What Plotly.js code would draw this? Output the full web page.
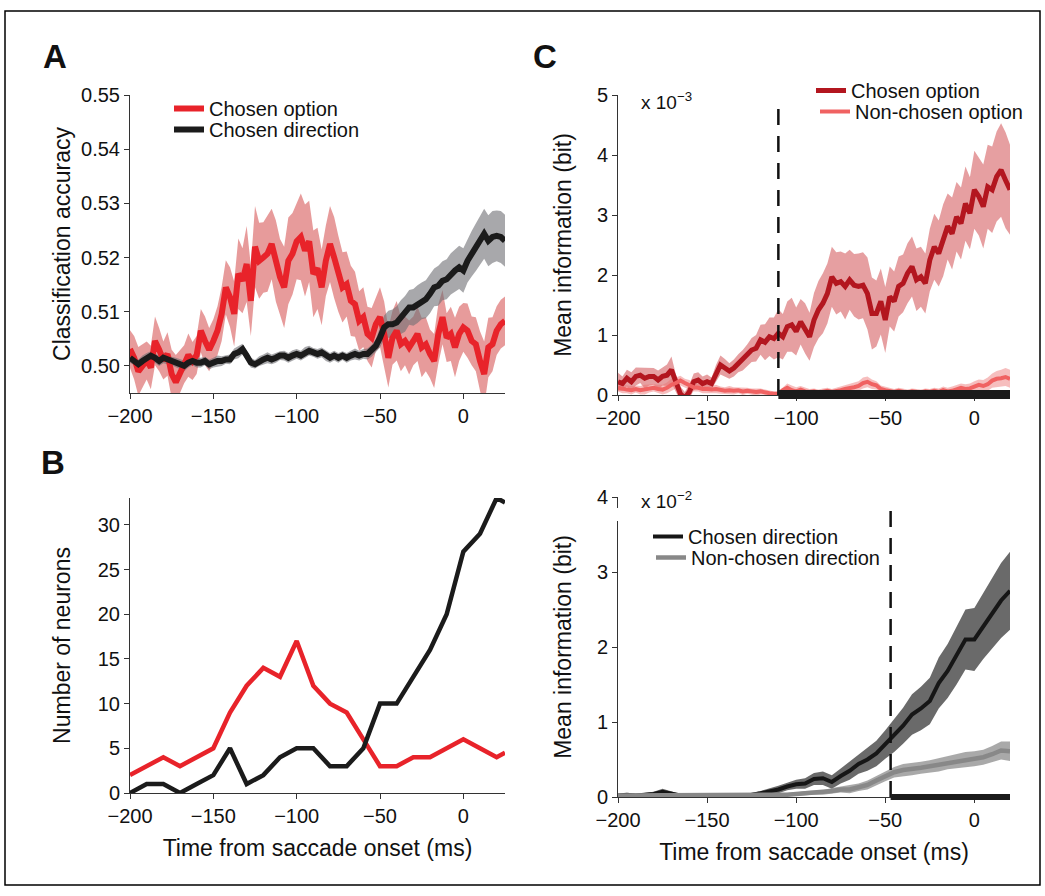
<!DOCTYPE html>
<html>
<head>
<meta charset="utf-8">
<script src="https://cdn.plot.ly/plotly-3.0.1.min.js"></script>
<style>html,body{margin:0;padding:0;background:#fff;}</style>
</head>
<body>
<div id="chart" style="width:1045px;height:896px;"></div>
<script>
// ---------------- DATA ----------------
const timeTicks = [-200, -150, -100, -50, 0];

// Panel A: classification accuracy (time step 2.5 ms, -200 .. 25)
const timeA = [
 -200,-197.5,-195,-192.5,-190,-187.5,-185,-182.5,-180,-177.5,
 -175,-172.5,-170,-167.5,-165,-162.5,-160,-157.5,-155,-152.5,
 -150,-147.5,-145,-142.5,-140,-137.5,-135,-132.5,-130,-127.5,
 -125,-122.5,-120,-117.5,-115,-112.5,-110,-107.5,-105,-102.5,
 -100,-97.5,-95,-92.5,-90,-87.5,-85,-82.5,-80,-77.5,
 -75,-72.5,-70,-67.5,-65,-62.5,-60,-57.5,-55,-52.5,
 -50,-47.5,-45,-42.5,-40,-37.5,-35,-32.5,-30,-27.5,
 -25,-22.5,-20,-17.5,-15,-12.5,-10,-7.5,-5,-2.5,
 0,2.5,5,7.5,10,12.5,15,17.5,20,22.5,
 25];
const accOptionMean = [
 .5031,.5015,.4990,.5000,.5010,.4997,.5046,.5030,.5010,.5022,
 .4985,.4970,.4990,.5003,.5020,.5009,.5020,.5065,.5046,.5030,
 .5046,.5065,.5096,.5145,.5127,.5096,.5170,.5157,.5188,.5120,
 .5220,.5194,.5200,.5207,.5225,.5194,.5164,.5145,.5194,.5207,
 .5230,.5238,.5213,.5230,.5170,.5180,.5145,.5194,.5225,.5200,
 .5170,.5145,.5151,.5120,.5114,.5083,.5090,.5059,.5052,.5077,
 .5090,.5059,.5015,.5052,.5065,.5040,.5046,.5034,.5046,.5059,
 .5034,.5040,.5022,.5009,.5059,.5090,.5052,.5059,.5034,.5059,
 .5071,.5065,.5046,.5040,.5009,.4985,.5034,.5040,.5065,.5077,
 .5083];
const accOptionSem = [
 .0035,.004,.0045,.004,.0035,.004,.0045,.004,.0035,.004,
 .0045,.005,.004,.0035,.004,.0035,.0035,.004,.0045,.004,
 .004,.0045,.005,.005,.0055,.006,.0065,.006,.007,.0065,
 .0075,.007,.0065,.007,.0065,.0075,.007,.0075,.008,.0075,
 .007,.008,.0085,.0075,.008,.0075,.007,.0065,.007,.0075,
 .007,.0065,.006,.0065,.006,.0055,.0055,.005,.0055,.005,
 .0055,.006,.0055,.005,.0055,.005,.0045,.005,.0045,.005,
 .0055,.005,.0045,.005,.0055,.005,.0045,.005,.0055,.005,
 .0045,.005,.0045,.005,.0055,.006,.0055,.005,.0045,.0045,
 .0045];
const accDirectionMean = [
 .5015,.5009,.5003,.5009,.5015,.5019,.5015,.5009,.5015,.5012,
 .5009,.5006,.5003,.5000,.5006,.5009,.5006,.5006,.5009,.5003,
 .5006,.5009,.5009,.5012,.5012,.5022,.5025,.5031,.5019,.5006,
 .5003,.5009,.5012,.5015,.5012,.5015,.5019,.5019,.5015,.5019,
 .5022,.5019,.5025,.5028,.5025,.5022,.5025,.5019,.5015,.5019,
 .5015,.5019,.5015,.5019,.5022,.5019,.5022,.5022,.5028,.5037,
 .5052,.5071,.5077,.5077,.5080,.5090,.5096,.5108,.5108,.5114,
 .5120,.5123,.5133,.5145,.5148,.5157,.5160,.5170,.5176,.5182,
 .5176,.5194,.5207,.5219,.5231,.5244,.5231,.5238,.5240,.5238,
 .5231];
const accDirectionSem = [
 .0009,.0008,.0009,.001,.0009,.0008,.0009,.0009,.001,.0009,
 .0008,.0009,.0009,.001,.0009,.0008,.0009,.0009,.0008,.0009,
 .0009,.001,.0009,.0008,.0009,.001,.0011,.001,.0009,.0009,
 .0008,.0009,.0009,.001,.0009,.0009,.0008,.0009,.0009,.001,
 .0009,.0009,.001,.0009,.0008,.0009,.0009,.001,.0009,.0009,
 .0009,.0008,.0009,.0009,.001,.0009,.0009,.001,.0011,.0012,
 .0018,.0022,.0025,.0027,.003,.0031,.0033,.0032,.0034,.0035,
 .0034,.0035,.0036,.0035,.0037,.0036,.0037,.0038,.0039,.004,
 .0041,.004,.0042,.0044,.0045,.0046,.0047,.0048,.0047,.0048,
 .0048];

// Panel B: number of neurons
const timeB = [-200,-190,-180,-170,-160,-150,-140,-130,-120,-110,-100,-90,-80,-70,-60,-50,-40,-30,-20,-10,0,10,20,25];
const neuronsOption    = [2,3,4,3,4,5,9,12,14,13,17,12,10,9,6,3,3,4,4,5,6,5,4,4.5];
const neuronsDirection = [0,1,1,0,1,2,5,1,2,4,5,5,3,3,5,10,10,13,16,20,27,29,33,32.5];

// Panel C top: mean information, option (x 10^-3 bit), step 2.5 ms, -200 .. 20
const timeC = [
 -200,-197.5,-195,-192.5,-190,-187.5,-185,-182.5,-180,-177.5,
 -175,-172.5,-170,-167.5,-165,-162.5,-160,-157.5,-155,-152.5,
 -150,-147.5,-145,-142.5,-140,-137.5,-135,-132.5,-130,-127.5,
 -125,-122.5,-120,-117.5,-115,-112.5,-110,-107.5,-105,-102.5,
 -100,-97.5,-95,-92.5,-90,-87.5,-85,-82.5,-80,-77.5,
 -75,-72.5,-70,-67.5,-65,-62.5,-60,-57.5,-55,-52.5,
 -50,-47.5,-45,-42.5,-40,-37.5,-35,-32.5,-30,-27.5,
 -25,-22.5,-20,-17.5,-15,-12.5,-10,-7.5,-5,-2.5,
 0,2.5,5,7.5,10,12.5,15,17.5,20];
const infoChosenOptMean = [
 .22,.19,.28,.22,.31,.33,.28,.31,.31,.25,
 .31,.33,.42,.19,.02,-.05,.05,.22,.25,.19,
 .22,.19,.36,.5,.45,.4,.45,.53,.58,.66,
 .75,.78,.92,.88,.97,.94,1.03,.97,1.14,1.17,
 1.06,1.22,1.11,.97,1.25,1.42,1.53,1.69,1.97,1.86,
 1.89,1.81,1.92,1.83,1.81,1.83,1.69,1.36,1.36,1.56,
 1.25,1.64,1.56,1.81,1.86,2.03,2.14,1.92,1.97,1.86,
 2.25,2.47,2.36,2.58,2.81,2.69,2.97,2.86,3.19,3.03,
 3.42,3.31,3.14,3.47,3.42,3.64,3.75,3.58,3.42];
const infoChosenOptSem = [
 .15,.12,.14,.16,.15,.13,.17,.15,.14,.16,
 .15,.18,.22,.15,.12,.1,.12,.14,.13,.12,
 .12,.1,.14,.16,.15,.13,.14,.15,.17,.18,
 .2,.22,.25,.3,.32,.35,.4,.38,.42,.45,
 .4,.38,.42,.4,.45,.48,.5,.5,.5,.52,
 .5,.55,.5,.52,.55,.55,.6,.6,.55,.55,
 .55,.5,.5,.5,.48,.5,.5,.52,.5,.5,
 .52,.55,.55,.6,.55,.6,.58,.6,.62,.6,
 .65,.65,.7,.7,.72,.75,.78,.8,.75];
const infoNonChosenOptMean = [
 .12,.1,.09,.08,.1,.08,.09,.11,.12,.1,
 .09,.12,.17,.2,.24,.2,.17,.13,.12,.1,
 .1,.09,.1,.08,.07,.08,.07,.08,.06,.07,
 .06,.05,.06,.04,.03,.02,.02,.08,.12,.08,
 .06,.09,.06,.05,.06,.04,.05,.07,.05,.06,
 .08,.1,.11,.13,.15,.2,.22,.18,.16,.1,
 .08,.06,.05,.07,.05,.04,.06,.05,.04,.06,
 .05,.07,.05,.08,.06,.07,.09,.12,.1,.11,
 .14,.17,.15,.18,.24,.27,.28,.3,.27];
const infoNonChosenOptSem = [
 .06,.07,.06,.07,.06,.07,.08,.07,.06,.07,
 .08,.09,.1,.09,.08,.07,.08,.07,.06,.07,
 .06,.06,.07,.06,.06,.07,.06,.05,.06,.05,
 .05,.06,.05,.05,.04,.04,.04,.05,.07,.08,
 .07,.06,.06,.05,.05,.05,.06,.05,.05,.06,
 .06,.07,.07,.08,.08,.09,.09,.08,.07,.06,
 .06,.05,.05,.05,.05,.05,.05,.05,.05,.05,
 .05,.05,.06,.06,.06,.07,.07,.07,.08,.08,
 .09,.09,.1,.11,.12,.13,.14,.15,.15];

// Panel C bottom: mean information, direction (x 10^-2 bit), step 5 ms
const timeD = [
 -200,-195,-190,-185,-180,-175,-170,-165,-160,-155,-150,-145,-140,-135,-130,-125,
 -120,-115,-110,-105,-100,-95,-90,-85,-80,-75,
 -70,-65,-60,-55,-50,-45,-40,-35,-30,-25,
 -20,-15,-10,-5,0,5,10,15,20];
const infoChosenDirMean = [
 .02,.03,.02,.03,.04,.07,.04,.02,.02,.02,.02,.02,.03,.02,.03,.03,
 .05,.07,.1,.14,.17,.18,.24,.25,.2,.28,
 .35,.44,.5,.58,.7,.82,.95,1.1,1.18,1.28,
 1.52,1.68,1.88,2.1,2.1,2.28,2.45,2.62,2.75];
const infoChosenDirSem = [
 .02,.02,.02,.02,.03,.04,.03,.02,.02,.02,.02,.02,.02,.02,.02,.02,
 .03,.04,.05,.05,.06,.07,.08,.09,.09,.1,
 .12,.13,.15,.17,.19,.22,.24,.27,.29,.31,
 .34,.36,.38,.4,.42,.44,.47,.5,.52];
const infoNonChosenDirMean = [
 .02,.02,.02,.02,.02,.02,.02,.02,.02,.02,.02,.02,.02,.02,.02,.02,
 .02,.02,.03,.03,.04,.05,.06,.06,.08,.1,
 .1,.13,.16,.22,.28,.33,.36,.37,.39,.41,
 .43,.46,.48,.5,.51,.53,.57,.62,.61];
const infoNonChosenDirSem = [
 .015,.015,.015,.015,.015,.015,.015,.015,.015,.015,.015,.015,.015,.015,.015,.015,
 .02,.02,.02,.02,.02,.03,.03,.03,.04,.04,
 .05,.05,.06,.06,.07,.07,.08,.08,.08,.08,
 .09,.09,.09,.1,.1,.1,.11,.12,.13];

// significance periods (ms)
const sigOption = [-110, 20];
const sigDirection = [-47, 20];

// ---------------- LAYOUT HELPERS ----------------
const W = 1045, H = 896;
const FONT = 'Liberation Sans, Arial, Helvetica, sans-serif';
const px = v => v / W;
const py = v => 1 - v / H;

function band(x, mean, sem, color, xa, ya) {
  const up = mean.map((m, i) => m + sem[i]);
  const lo = mean.map((m, i) => m - sem[i]).reverse();
  return {x: x.concat(x.slice().reverse()), y: up.concat(lo), type: 'scatter', mode: 'lines',
          fill: 'toself', fillcolor: color, line: {width: 0}, hoverinfo: 'skip',
          showlegend: false, xaxis: xa, yaxis: ya};
}
function line(x, y, name, color, width, xa, ya, legend, show) {
  return {x: x, y: y, name: name, type: 'scatter', mode: 'lines',
          line: {color: color, width: width}, xaxis: xa, yaxis: ya,
          legend: legend, showlegend: show};
}

const traces = [
  band(timeA, accOptionMean, accOptionSem, 'rgba(212,72,72,0.55)', 'x', 'y'),
  band(timeA, accDirectionMean, accDirectionSem, 'rgba(110,110,115,0.6)', 'x', 'y'),
  line(timeA, accOptionMean, 'Chosen option', '#e8232a', 6, 'x', 'y', 'legend', true),
  line(timeA, accDirectionMean, 'Chosen direction', '#1b1b1b', 6, 'x', 'y', 'legend2', true),

  line(timeB, neuronsOption, 'Chosen option', '#e8232a', 4.5, 'x2', 'y2', 'legend', false),
  line(timeB, neuronsDirection, 'Chosen direction', '#1b1b1b', 4.5, 'x2', 'y2', 'legend2', false),

  band(timeC, infoChosenOptMean, infoChosenOptSem, 'rgba(208,70,75,0.52)', 'x3', 'y3'),
  band(timeC, infoNonChosenOptMean, infoNonChosenOptSem, 'rgba(235,110,110,0.45)', 'x3', 'y3'),
  line(timeC, infoChosenOptMean, 'Chosen option', '#b3161f', 5, 'x3', 'y3', 'legend3', true),
  line(timeC, infoNonChosenOptMean, 'Non-chosen option', '#f06262', 4, 'x3', 'y3', 'legend4', true),

  band(timeD, infoChosenDirMean, infoChosenDirSem, 'rgba(80,80,80,0.85)', 'x4', 'y4'),
  band(timeD, infoNonChosenDirMean, infoNonChosenDirSem, 'rgba(140,140,140,0.75)', 'x4', 'y4'),
  line(timeD, infoChosenDirMean, 'Chosen direction', '#161616', 4, 'x4', 'y4', 'legend5', true),
  line(timeD, infoNonChosenDirMean, 'Non-chosen direction', '#888888', 4.5, 'x4', 'y4', 'legend6', true)
];

const TICKFONT = {family: FONT, size: 20, color: '#111'};
const TITLEFONT = {family: FONT, size: 23, color: '#111'};

function xAxis(x0, x1, range, anchor, title) {
  const a = {domain: [px(x0), px(x1)], range: range, anchor: anchor,
    tickvals: timeTicks, ticks: 'outside', ticklen: 5, tickwidth: 1, tickcolor: '#333',
    showline: true, linecolor: '#333', linewidth: 1, showgrid: false, zeroline: false,
    tickfont: TICKFONT, fixedrange: true};
  if (title) a.title = {text: title, font: TITLEFONT, standoff: 13};
  return a;
}
function yAxis(y0, y1, range, tickvals, fmt, anchor, title, standoff) {
  return {domain: [py(y1), py(y0)], range: range, anchor: anchor, tickvals: tickvals,
    tickformat: fmt, ticks: 'outside', ticklen: 5, tickwidth: 1, tickcolor: '#333',
    showline: true, linecolor: '#333', linewidth: 1, showgrid: false, zeroline: false,
    tickfont: TICKFONT, fixedrange: true,
    title: {text: title, font: TITLEFONT, standoff: standoff}};
}

function legendAt(left, top) {
  return {font: {family: FONT, size: 20, color: '#111'}, bgcolor: 'rgba(0,0,0,0)',
    xanchor: 'left', yanchor: 'top', x: px(left), y: py(top), itemclick: false};
}

const layout = {
  width: W, height: H, margin: {l: 0, r: 0, t: 0, b: 0},
  paper_bgcolor: '#fff', plot_bgcolor: 'rgba(0,0,0,0)',
  font: {family: FONT, color: '#111'},
  xaxis:  xAxis(130, 505, [-200, 25], 'y', null),
  yaxis:  yAxis(95, 393, [0.495, 0.55], [0.50, 0.51, 0.52, 0.53, 0.54, 0.55], '.2f', 'x', 'Classification accuracy', 4),
  xaxis2: xAxis(130, 505, [-200, 25], 'y2', 'Time from saccade onset (ms)'),
  yaxis2: yAxis(498, 793, [0, 33], [0, 5, 10, 15, 20, 25, 30], '', 'x2', 'Number of neurons', 20),
  xaxis3: xAxis(618, 1010, [-200, 20], 'y3', null),
  yaxis3: yAxis(95, 395, [0, 5], [0, 1, 2, 3, 4, 5], '', 'x3', 'Mean information (bit)', 18),
  xaxis4: xAxis(618, 1010, [-200, 20], 'y4', 'Time from saccade onset (ms)'),
  yaxis4: yAxis(497, 797, [0, 4], [0, 1, 2, 3, 4], '', 'x4', 'Mean information (bit)', 18),
  legend:  legendAt(169, 89),
  legend2: legendAt(169, 110),
  legend3: legendAt(811, 71),
  legend4: legendAt(815, 92),
  legend5: legendAt(648, 517),
  legend6: legendAt(651, 538),
  shapes: [
    // figure frame
    {type: 'rect', xref: 'paper', yref: 'paper', x0: px(5), x1: px(1040), y0: py(885), y1: py(11),
     line: {color: '#000', width: 1.5}, layer: 'below'},
    // onset lines
    {type: 'line', xref: 'x3', yref: 'y3', x0: sigOption[0], x1: sigOption[0], y0: 0, y1: 4.83,
     line: {color: '#111', width: 2.5, dash: '16px,11px'}},
    {type: 'line', xref: 'x4', yref: 'y4', x0: sigDirection[0], x1: sigDirection[0], y0: 0, y1: 3.87,
     line: {color: '#111', width: 2.5, dash: '16px,11px'}},
    // significance bars
    {type: 'rect', xref: 'x3', yref: 'paper', x0: sigOption[0], x1: sigOption[1], y0: py(399), y1: py(390),
     fillcolor: '#1b1b1b', line: {width: 0}},
    {type: 'rect', xref: 'x4', yref: 'paper', x0: sigDirection[0], x1: sigDirection[1], y0: py(800), y1: py(794),
     fillcolor: '#1b1b1b', line: {width: 0}},
    // gap in the lower-right y axis
    {type: 'rect', xref: 'paper', yref: 'paper', x0: px(615), x1: px(621), y0: py(521), y1: py(508),
     fillcolor: '#fff', line: {width: 0}}
  ],
  annotations: [
    {text: '<b>A</b>', x: px(55), y: py(57), xref: 'paper', yref: 'paper', xanchor: 'center', yanchor: 'middle',
     showarrow: false, font: {family: FONT, size: 33, color: '#111'}},
    {text: '<b>B</b>', x: px(53), y: py(462), xref: 'paper', yref: 'paper', xanchor: 'center', yanchor: 'middle',
     showarrow: false, font: {family: FONT, size: 33, color: '#111'}},
    {text: '<b>C</b>', x: px(545), y: py(57), xref: 'paper', yref: 'paper', xanchor: 'center', yanchor: 'middle',
     showarrow: false, font: {family: FONT, size: 33, color: '#111'}},
    {text: 'x 10<sup>\u22123</sup>', x: px(639), y: py(101), xref: 'paper', yref: 'paper',
     xanchor: 'left', yanchor: 'middle', showarrow: false, font: {family: FONT, size: 19, color: '#111'}},
    {text: 'x 10<sup>\u22122</sup>', x: px(639), y: py(500), xref: 'paper', yref: 'paper',
     xanchor: 'left', yanchor: 'middle', showarrow: false, font: {family: FONT, size: 19, color: '#111'}}
  ]
};

Plotly.newPlot('chart', traces, layout, {staticPlot: true, displayModeBar: false});
</script>
</body>
</html>
